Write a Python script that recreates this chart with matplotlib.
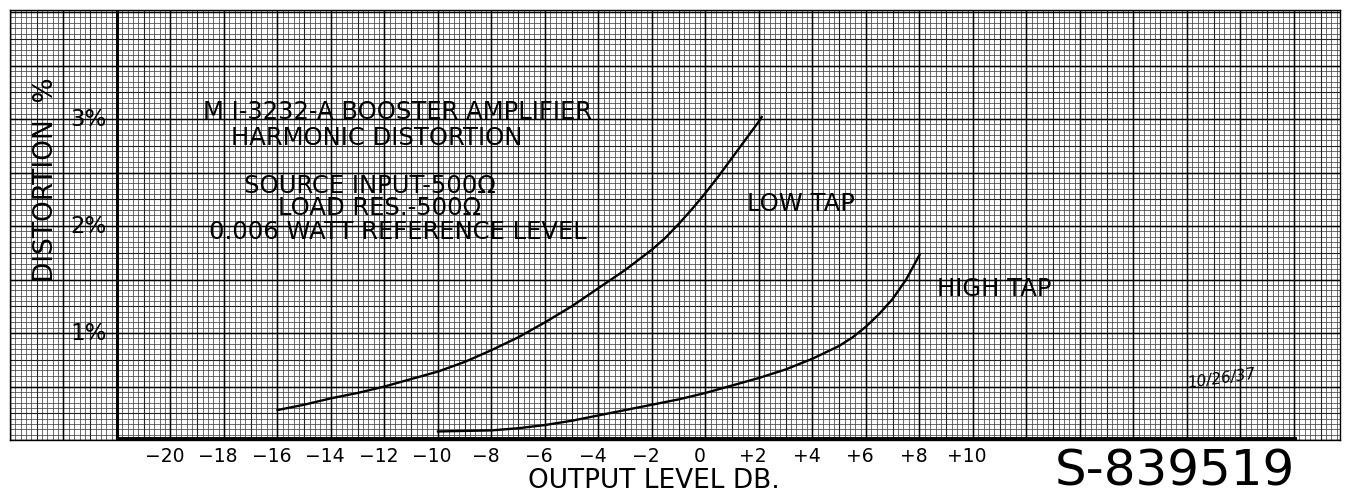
import numpy as np
import matplotlib
matplotlib.use("Agg")
import matplotlib.pyplot as plt
from matplotlib.transforms import ScaledTranslation

# distortion curves (output level dB, distortion %)
low_db = [-16, -15, -14, -13, -12, -11, -10, -9, -8, -7, -6, -5, -4, -3, -2, -1.5, -1,
          -0.5, 0, 0.5, 1, 1.5, 2, 2.1]
low_pct = [0.28, 0.33, 0.39, 0.44, 0.50, 0.57, 0.64, 0.73, 0.84, 0.96, 1.10, 1.25,
           1.42, 1.59, 1.78, 1.89, 2.02, 2.16, 2.31, 2.47, 2.64, 2.81, 2.98, 3.02]

high_db = [-10, -9, -8, -7, -6, -5, -4, -3, -2, -1, 0, 1, 2, 3, 4, 5, 5.5, 6, 6.5, 7, 7.5, 8]
high_pct = [0.08, 0.085, 0.09, 0.11, 0.14, 0.18, 0.23, 0.28, 0.33, 0.38, 0.44, 0.51,
            0.58, 0.66, 0.76, 0.88, 0.96, 1.06, 1.18, 1.32, 1.50, 1.73]

x_ticks = [-20, -18, -16, -14, -12, -10, -8, -6, -4, -2, 0, 2, 4, 6, 8, 10]
x_labels = ["\u221220", "\u221218", "\u221216", "\u221214", "\u221212", "\u221210", "\u22128",
            "\u22126", "\u22124", "\u22122", "0", "+2", "+4", "+6", "+8", "+10"]
y_marks = [1, 2, 3]
y_labels = ["1%", "2%", "3%"]

title_lines = ["M I-3232-A BOOSTER AMPLIFIER", "HARMONIC DISTORTION",
               "SOURCE INPUT-500\u2126", "LOAD RES.-500\u2126", "0.006 WATT REFERENCE LEVEL"]

plt.rcParams['font.family'] = ['DejaVu Sans']

fig = plt.figure(figsize=(13.51, 4.93), dpi=100)
ax = fig.add_axes([10 / 1351, 53 / 493, 1330 / 1351, 430 / 493])
x0, x1, y0, y1 = -26, 23.72, 0, 4.02
ax.set_xlim(x0, x1)
ax.set_ylim(y0, y1)

# graph paper
ax.vlines(np.arange(x0, x1, 0.2), y0, y1, color='#444', lw=0.55, zorder=1)
ax.hlines(np.arange(y0, y1, 0.05), x0, x1, color='#444', lw=0.55, zorder=1)
ax.vlines(np.arange(x0, x1, 1), y0, y1, color='#222', lw=0.8, zorder=1)
ax.hlines(np.arange(y0, y1, 0.25), x0, x1, color='#222', lw=0.8, zorder=1)
ax.vlines(np.arange(x0, x1, 2), y0, y1, color='black', lw=1.05, zorder=1)
ax.hlines(np.arange(y0, y1, 0.5), x0, x1, color='black', lw=1.05, zorder=1)

# drawn axes
ax.plot([-22, -22], [y0, y1], color='black', lw=2.2, zorder=2)
ax.plot([-22, 22.1], [0.005, 0.005], color='black', lw=2.8, zorder=2, solid_capstyle='butt')

for s in ax.spines.values():
    s.set_linewidth(1.0)

ax.plot(low_db, low_pct, color='black', lw=1.7, zorder=3)
ax.plot(high_db, high_pct, color='black', lw=1.7, zorder=3)

ax.set_xticks(x_ticks)
ax.set_xticklabels(x_labels)
ax.tick_params(axis='x', length=0, labelsize=13.5, pad=5)
for lab in ax.get_xticklabels():
    lab.set_transform(lab.get_transform() + ScaledTranslation(-6 / 100, 0, fig.dpi_scale_trans))
ax.set_yticks([])

for v, t in zip(y_marks, y_labels):
    ax.text(-23.05, v, t, fontsize=16.5, ha='center', va='center', zorder=4)

ax.text(-24.65, 2.43, "DISTORTION  %", rotation=90, fontsize=19, ha='center', va='center', zorder=4)

title_pos = [(-11.5, 3.07), (-12.3, 2.82), (-12.55, 2.37), (-12.2, 2.17), (-11.5, 1.94)]
for (tx, ty), t in zip(title_pos, title_lines):
    ax.text(tx, ty, t, fontsize=17.5, ha='center', va='center', zorder=4)

ax.text(3.55, 2.21, "LOW TAP", fontsize=17.5, ha='center', va='center', zorder=4)
ax.text(10.8, 1.41, "HIGH TAP", fontsize=17.5, ha='center', va='center', zorder=4)
ax.text(19.3, 0.57, "10/26/37", fontsize=11, style='italic', ha='center', va='center',
        rotation=8, zorder=4)

ax.set_xlabel("OUTPUT LEVEL DB.", fontsize=19)
ax.xaxis.set_label_coords(0.484, -0.095)
ax.xaxis.label.set_va('center')

fig.text(1175 / 1351, 1 - 471 / 493, "S-839519", fontsize=36, ha='center', va='center')

fig.savefig("out.png", dpi=100)
